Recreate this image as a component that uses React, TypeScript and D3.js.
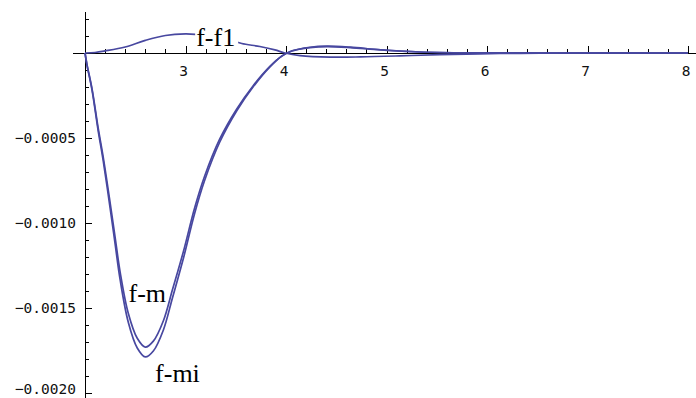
import React, { useEffect, useRef } from "react";
import * as d3 from "d3";

// curve samples (y in units of 1e-4)
const xsM = [2.0, 2.02, 2.07, 2.13, 2.18, 2.25, 2.3, 2.35, 2.43, 2.52, 2.6, 2.68, 2.78, 2.87, 2.98, 3.09, 3.19, 3.34, 3.51, 3.67, 3.84, 3.96, 4.06, 4.24, 4.41, 4.64, 4.94, 5.33, 5.93, 6.6, 8.0];
const fmi = [0, -0.71, -2.18, -4.53, -6.29, -9.12, -11.24, -13.35, -15.82, -17.35, -17.88, -17.53, -16.29, -14.41, -12.06, -9.45, -7.5, -5.25, -3.4, -2.02, -0.82, -0.18, 0.12, 0.32, 0.38, 0.32, 0.18, 0.06, 0.01, 0, 0];
const fm = [0, -0.69, -2.11, -4.38, -6.08, -8.81, -10.86, -12.9, -15.29, -16.78, -17.3, -16.95, -15.75, -13.93, -11.66, -9.13, -7.25, -5.07, -3.29, -1.95, -0.79, -0.17, 0.13, 0.34, 0.4, 0.34, 0.19, 0.06, 0.01, 0, 0];

const xsF1 = [2.0, 2.1, 2.2, 2.4, 2.6, 2.8, 3.0, 3.1, 3.3, 3.45, 3.56, 3.74, 3.89, 3.99, 4.14, 4.44, 4.74, 5.13, 5.53, 6.13, 6.73, 8.0];
const ff1 = [0, 0.03, 0.12, 0.35, 0.74, 1.03, 1.12, 1.09, 0.94, 0.76, 0.56, 0.38, 0.18, 0, -0.15, -0.24, -0.23, -0.17, -0.09, -0.03, 0, 0];

const xTickLabels = [3, 4, 5, 6, 7, 8];
const yTickLabels = [-0.0005, -0.001, -0.0015, -0.002];

const labelNames = ["f-f1", "f-m", "f-mi"];
const labelX = [3.3, 2.62, 2.92];
const labelY = [0.41, -14.65, -19.35];
const labelBg = [true, false, false];

const W = 696;
const H = 398;
const lineColor = "#4848a0";
const tickFont = "'DejaVu Sans Mono', monospace";
const labelFont = "'Liberation Serif', 'Times New Roman', serif";

export default function App() {
  const ref = useRef<SVGSVGElement>(null);

  useEffect(() => {
    if (!ref.current) return;
    const svg = d3.select(ref.current);
    svg.selectAll("*").remove();

    const x = d3.scaleLinear().domain([2, 8]).range([85, 688]);
    const y = d3.scaleLinear().domain([0, -0.002]).range([53, 393]);
    const x0 = x(2);
    const y0 = y(0);

    const line = d3
      .line<[number, number]>()
      .x((d) => x(d[0]))
      .y((d) => y(d[1] * 1e-4))
      .curve(d3.curveCatmullRom.alpha(0.5));

    const series = [
      xsF1.map((v, i) => [v, ff1[i]] as [number, number]),
      xsM.map((v, i) => [v, fm[i]] as [number, number]),
      xsM.map((v, i) => [v, fmi[i]] as [number, number]),
    ];

    // axes
    const ax = svg.append("g").attr("stroke", "#000").attr("stroke-width", 1);
    ax.append("line")
      .attr("x1", 73)
      .attr("x2", W)
      .attr("y1", y0 + 0.5)
      .attr("y2", y0 + 0.5);
    ax.append("line")
      .attr("x1", x0 + 0.5)
      .attr("x2", x0 + 0.5)
      .attr("y1", 12)
      .attr("y2", H);

    const xMinor = d3.range(11, 41).map((i) => i / 5);
    xMinor.forEach((v) => {
      const major = Math.abs(v - Math.round(v)) < 1e-6;
      const px = Math.round(x(v)) + 0.5;
      ax.append("line")
        .attr("x1", px)
        .attr("x2", px)
        .attr("y1", y0)
        .attr("y2", y0 - (major ? 7 : 4));
    });

    const yMinor = d3.range(-20, 3).filter((i) => i !== 0).map((i) => i / 10000);
    yMinor.forEach((v) => {
      const major = Math.abs(v * 2000 - Math.round(v * 2000)) < 1e-6;
      const py = Math.round(y(v)) + 0.5;
      ax.append("line")
        .attr("x1", x0)
        .attr("x2", x0 + (major ? 7 : 4))
        .attr("y1", py)
        .attr("y2", py);
    });

    svg
      .append("g")
      .selectAll("text")
      .data(xTickLabels)
      .join("text")
      .attr("x", (d) => x(d) - 2)
      .attr("y", y0 + 23)
      .attr("text-anchor", "middle")
      .attr("font-family", tickFont)
      .attr("font-size", 14.5)
      .attr("fill", "#111")
      .text((d) => String(d));

    // the bottom label sits at the edge, nudge it up so it stays inside
    svg
      .append("g")
      .selectAll("text")
      .data(yTickLabels)
      .join("text")
      .attr("x", 76)
      .attr("y", (d) => Math.min(y(d) + 5, H - 4))
      .attr("text-anchor", "end")
      .attr("font-family", tickFont)
      .attr("font-size", 14.5)
      .attr("fill", "#111")
      .text((d) => "\u2212" + Math.abs(d).toFixed(4));

    // curves
    svg
      .append("g")
      .selectAll("path")
      .data(series)
      .join("path")
      .attr("d", (d) => line(d))
      .attr("fill", "none")
      .attr("stroke", lineColor)
      .attr("stroke-width", 1.7);

    // labels
    labelNames.forEach((name, i) => {
      const g = svg.append("g");
      const t = g
        .append("text")
        .attr("x", x(labelX[i]))
        .attr("y", y(labelY[i] * 1e-4))
        .attr("text-anchor", "middle")
        .attr("font-family", labelFont)
        .attr("font-size", 26)
        .attr("fill", "#000")
        .text(name);
      if (labelBg[i]) {
        const b = (t.node() as SVGTextElement).getBBox();
        g.insert("rect", "text")
          .attr("x", b.x - 1)
          .attr("y", b.y + 2)
          .attr("width", b.width + 4)
          .attr("height", b.height - 7)
          .attr("fill", "#fff");
      }
    });
  }, []);

  return (
    <svg
      ref={ref}
      width={W}
      height={H}
      style={{ position: "absolute", left: 0, top: 0, background: "#fff" }}
    />
  );
}
